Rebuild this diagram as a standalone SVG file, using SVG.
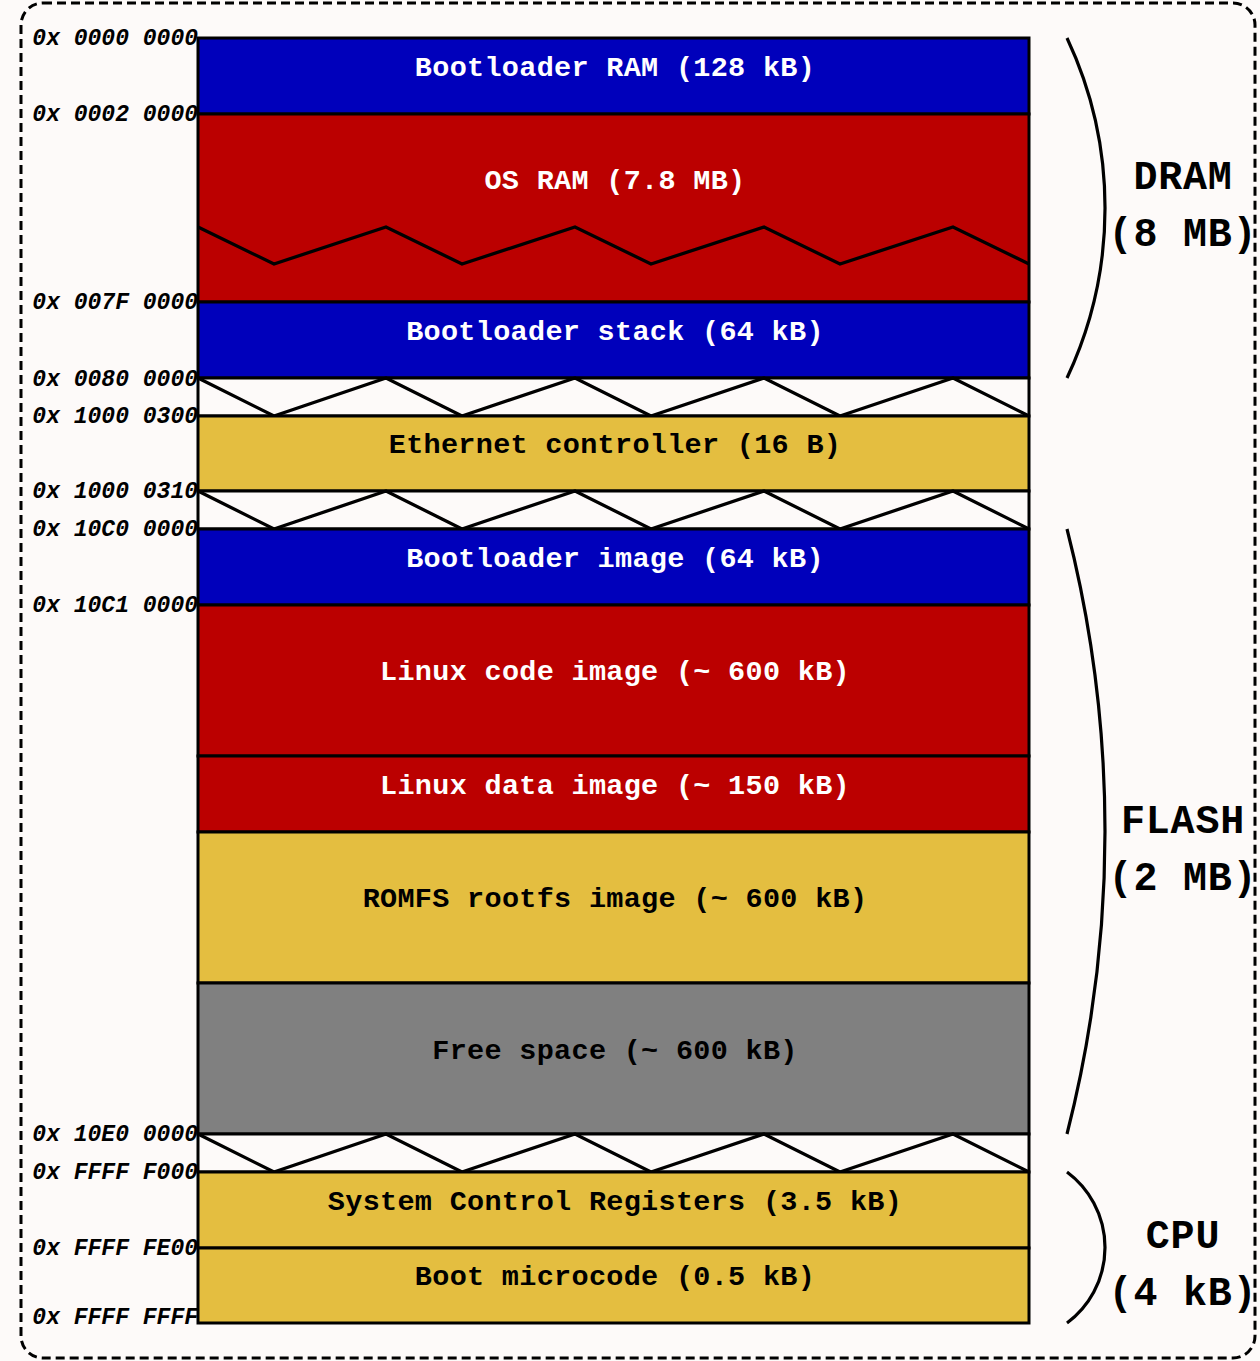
<svg xmlns="http://www.w3.org/2000/svg" width="1260" height="1361" viewBox="0 0 1260 1361">
<style>
.blue{fill:#0000BB;stroke:#000;stroke-width:3}
.red{fill:#BB0000;stroke:#000;stroke-width:3}
.yel{fill:#E4BE40;stroke:#000;stroke-width:3}
.gray{fill:#808080;stroke:#000;stroke-width:3}
.gap{fill:#FDFAF9;stroke:#000;stroke-width:3}
.zig{fill:none;stroke:#000;stroke-width:3.3;stroke-linejoin:miter}
.lbl{font-family:"Liberation Mono","Courier New",monospace;font-weight:bold;font-size:28.5px;letter-spacing:0.3px;text-anchor:middle}
.w{fill:#fff}
.k{fill:#000}
.addr{font-family:"Liberation Mono","Courier New",monospace;font-weight:bold;font-style:italic;font-size:23px;text-anchor:end;fill:#000}
.big{font-family:"Liberation Mono","Courier New",monospace;font-weight:bold;font-size:40px;letter-spacing:0.8px;text-anchor:middle;fill:#000}
.brace{fill:none;stroke:#000;stroke-width:3.2}
</style>
<rect x="0" y="0" width="1260" height="1361" fill="#FDFAF9"/>
<rect x="21" y="3" width="1234" height="1355" rx="22" ry="22" fill="none" stroke="#000" stroke-width="3" stroke-dasharray="9,5"/>

<g id="bootloader-ram"><rect class="blue" x="198" y="38" width="831" height="76"/><text class="lbl w" x="615" y="76">Bootloader RAM (128 kB)</text></g>
<g id="os-ram"><rect class="red" x="198" y="114" width="831" height="188"/><polyline class="zig" points="198,227 274,264 386,227 462,264 575,227 651,264 764,227 840,264 953,227 1029,264"/><text class="lbl w" x="615" y="189">OS RAM (7.8 MB)</text></g>
<g id="bootloader-stack"><rect class="blue" x="198" y="302" width="831" height="76"/><text class="lbl w" x="615" y="340">Bootloader stack (64 kB)</text></g>
<g id="gap1"><rect class="gap" x="198" y="378" width="831" height="38"/><polyline class="zig" points="198,378 274,416 386,378 462,416 575,378 651,416 764,378 840,416 953,378 1029,416"/></g>
<g id="ethernet"><rect class="yel" x="198" y="416" width="831" height="75"/><text class="lbl k" x="615" y="453">Ethernet controller (16 B)</text></g>
<g id="gap2"><rect class="gap" x="198" y="491" width="831" height="38"/><polyline class="zig" points="198,491 274,529 386,491 462,529 575,491 651,529 764,491 840,529 953,491 1029,529"/></g>
<g id="bootloader-image"><rect class="blue" x="198" y="529" width="831" height="76"/><text class="lbl w" x="615" y="567">Bootloader image (64 kB)</text></g>
<g id="linux-code"><rect class="red" x="198" y="605" width="831" height="151"/><text class="lbl w" x="615" y="680">Linux code image (~ 600 kB)</text></g>
<g id="linux-data"><rect class="red" x="198" y="756" width="831" height="76"/><text class="lbl w" x="615" y="794">Linux data image (~ 150 kB)</text></g>
<g id="romfs"><rect class="yel" x="198" y="832" width="831" height="151"/><text class="lbl k" x="615" y="907">ROMFS rootfs image (~ 600 kB)</text></g>
<g id="free"><rect class="gray" x="198" y="983" width="831" height="151"/><text class="lbl k" x="615" y="1059">Free space (~ 600 kB)</text></g>
<g id="gap3"><rect class="gap" x="198" y="1134" width="831" height="38"/><polyline class="zig" points="198,1134 274,1172 386,1134 462,1172 575,1134 651,1172 764,1134 840,1172 953,1134 1029,1172"/></g>
<g id="scr"><rect class="yel" x="198" y="1172" width="831" height="76"/><text class="lbl k" x="615" y="1210">System Control Registers (3.5 kB)</text></g>
<g id="boot-microcode"><rect class="yel" x="198" y="1248" width="831" height="75"/><text class="lbl k" x="615" y="1285">Boot microcode (0.5 kB)</text></g>

<g id="addresses">
<text class="addr" x="198" y="45">0x 0000 0000</text>
<text class="addr" x="198" y="121">0x 0002 0000</text>
<text class="addr" x="198" y="309">0x 007F 0000</text>
<text class="addr" x="198" y="386">0x 0080 0000</text>
<text class="addr" x="198" y="423">0x 1000 0300</text>
<text class="addr" x="198" y="498">0x 1000 0310</text>
<text class="addr" x="198" y="536">0x 10C0 0000</text>
<text class="addr" x="198" y="612">0x 10C1 0000</text>
<text class="addr" x="198" y="1141">0x 10E0 0000</text>
<text class="addr" x="198" y="1179">0x FFFF F000</text>
<text class="addr" x="198" y="1255">0x FFFF FE00</text>
<text class="addr" x="198" y="1324">0x FFFF FFFF</text>
</g>

<g id="connectors">
<path class="brace" d="M1067,38 A399,399 0 0 1 1067,378"/>
<path class="brace" d="M1067,529 A1223,1223 0 0 1 1067,1134"/>
<path class="brace" d="M1067,1172 A94,94 0 0 1 1067,1323"/>
</g>

<g id="dram-label"><text class="big" x="1183" y="189">DRAM</text><text class="big" x="1183" y="246">(8 MB)</text></g>
<g id="flash-label"><text class="big" x="1183" y="833">FLASH</text><text class="big" x="1183" y="890">(2 MB)</text></g>
<g id="cpu-label"><text class="big" x="1183" y="1248">CPU</text><text class="big" x="1183" y="1305">(4 kB)</text></g>
</svg>
